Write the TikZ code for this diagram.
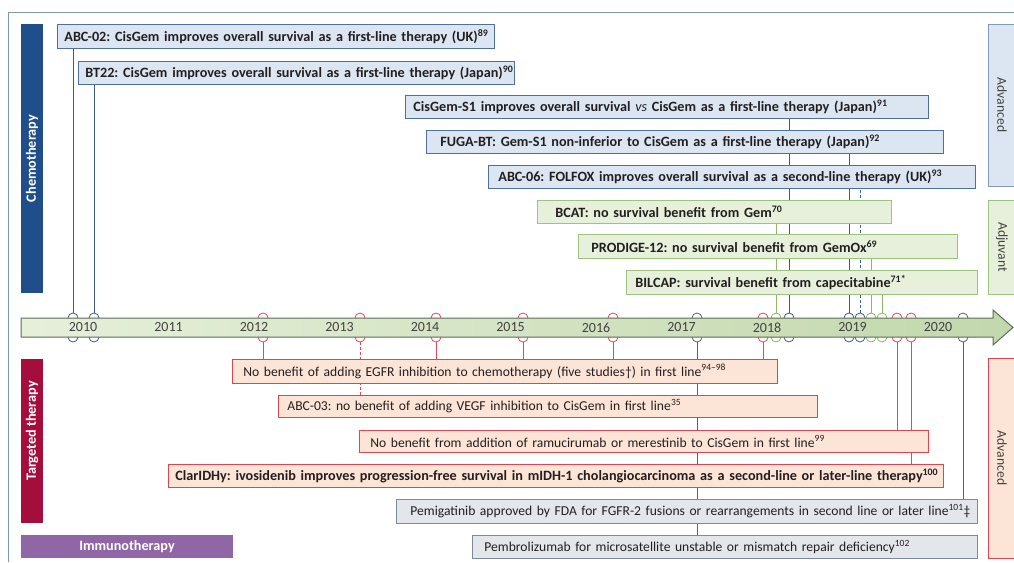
\documentclass[tikz,border=0pt]{standalone}
\usepackage{fontspec}
\setmainfont{Carlito}
\usetikzlibrary{backgrounds}
\frenchspacing
\definecolor{txt}{HTML}{231F20}
\definecolor{bfill}{HTML}{DCE6F2}
\definecolor{bdraw}{HTML}{4F6F9F}
\definecolor{bline}{HTML}{3E5C8A}
\definecolor{gfill}{HTML}{E6F0DA}
\definecolor{gdraw}{HTML}{9CC47E}
\definecolor{gline}{HTML}{8DB96D}
\definecolor{rfill}{HTML}{FCE4D6}
\definecolor{rdraw}{HTML}{E2434F}
\definecolor{rline}{HTML}{E04A55}
\definecolor{yfill}{HTML}{E3E7EB}
\definecolor{ydraw}{HTML}{7D8B97}
\definecolor{yline}{HTML}{56646F}
\definecolor{chemoc}{HTML}{1F4E8A}
\definecolor{targc}{HTML}{A50D3C}
\definecolor{immuc}{HTML}{9166A6}
\definecolor{framec}{HTML}{7F9C9C}
\definecolor{tlA}{HTML}{E6EFDA}
\definecolor{tlB}{HTML}{C2D8AC}
\definecolor{tldraw}{HTML}{5D6B58}
\definecolor{sbfill}{HTML}{DCE6F2}
\definecolor{sbdraw}{HTML}{7F98BD}
\newcommand\regf{\fontsize{13.6}{15}\selectfont}
\newcommand\boldf{\fontsize{14.2}{15}\selectfont\bfseries}
\tikzset{
  tbox/.style={anchor=north west, inner ysep=0pt, align=left, text=txt, line width=0.8pt, font=\regf},
  chemobox/.style={tbox, fill=bfill, draw=bdraw, font=\boldf},
  adjbox/.style={tbox, fill=gfill, draw=gdraw, font=\boldf},
  tgbox/.style={tbox, fill=rfill, draw=rdraw},
  tgboldbox/.style={tgbox, font=\boldf},
  imbox/.style={tbox, fill=yfill, draw=ydraw},
  mk/.style={circle, minimum size=10pt, inner sep=0pt, line width=0.8pt, fill=white},
  conn/.style={line width=0.9pt},
  dashedconn/.style={dash pattern=on 3pt off 2pt},
  catbar/.style={inner sep=0pt, text=white, font=\boldf},
  sidebar/.style={inner sep=0pt, line width=0.8pt, text=txt!85, font=\regf, minimum height=28pt, rotate=-90},
  yr/.style={text=txt!85, font=\fontsize{14}{15}\selectfont},
}
% name, x1, y1, x2, y2, style, text start x, text
\newcommand\bx[8]{\node[#6, inner xsep={(#7-#2)*1pt}, text width={(#4-#2-2*(#7-#2))*1pt}, minimum height={(#5-#3)*1pt}] (#1) at (#2,#3) {\mbox{#8}};}
\newcommand\evup[5]{%
  \node[mk, draw=#3] (#1t) at (#2,318) {};
  \node[mk, draw=#3] (#1b) at (#2,337) {};
  \draw[conn, #3, #5] (#1t.north) -- (#1t.north |- #4.south);}
\newcommand\evdn[5]{%
  \node[mk, draw=#3] (#1t) at (#2,318) {};
  \node[mk, draw=#3] (#1b) at (#2,337) {};
  \draw[conn, #3, #5] (#1b.south) -- (#1b.south |- #4.north);}
\begin{document}
\begin{tikzpicture}[x=1pt,y=-1pt]
\useasboundingbox (0,0) rectangle (1014,562);
\draw[framec, line width=0.8pt] (8,562) -- (8,12) -- (1014,12);
% category bars
\node[catbar, fill=chemoc, minimum width=269pt, minimum height=22pt, rotate=90] (chemo) at (32,158.5) {Chemotherapy};
\node[catbar, fill=targc, minimum width=164pt, minimum height=22pt, rotate=90] (targ) at (32,441) {\hspace{20pt}Targeted therapy};
\node[catbar, fill=immuc, minimum width=212pt, minimum height=23pt] (immu) at (127,546.5) {Immunotherapy};
\node[sidebar, fill=sbfill, draw=sbdraw, minimum width=162pt] (adv1) at (1002,105) {Advanced};
\node[sidebar, fill=gfill, draw=gdraw, minimum width=94pt] (adj) at (1002,247) {Adjuvant};
\node[sidebar, fill=rfill, draw=rdraw, minimum width=200pt] (adv2) at (1002,458) {Advanced};
% boxes
\bx{abc02}{57}{24}{494}{48}{chemobox}{64}{ABC-02: CisGem improves overall survival as a first-line therapy (UK)\textsuperscript{89}}
\bx{bt22}{78}{61}{514}{84}{chemobox}{85}{BT22: CisGem improves overall survival as a first-line therapy (Japan)\textsuperscript{90}}
\bx{cgs1}{405}{95}{928}{118}{chemobox}{413}{CisGem-S1 improves overall survival {\mdseries\itshape vs} CisGem as a first-line therapy (Japan)\textsuperscript{91}}
\bx{fuga}{426}{130}{943}{153}{chemobox}{440}{FUGA-BT: Gem-S1 non-inferior to CisGem as a first-line therapy (Japan)\textsuperscript{92}}
\bx{abc06}{488}{165}{975}{188}{chemobox}{498}{ABC-06: FOLFOX improves overall survival as a second-line therapy (UK)\textsuperscript{93}}
\bx{bcat}{537}{200}{891}{223}{adjbox}{555}{BCAT: no survival benefit from Gem\textsuperscript{70}}
\bx{prodige}{578}{234}{957}{258}{adjbox}{591}{PRODIGE-12: no survival benefit from GemOx\textsuperscript{69}}
\bx{bilcap}{626}{270}{977}{294}{adjbox}{635}{BILCAP: survival benefit from capecitabine\textsuperscript{71*}}
\bx{egfr}{232}{359}{777}{383}{tgbox}{243}{No benefit of adding EGFR inhibition to chemotherapy (five studies†) in first line\textsuperscript{94–98}}
\bx{abc03}{278}{395}{817}{417}{tgbox}{287}{ABC-03: no benefit of adding VEGF inhibition to CisGem in first line\textsuperscript{35}}
\bx{ramu}{359}{430}{928}{452}{tgbox}{370}{No benefit from addition of ramucirumab or merestinib to CisGem in first line\textsuperscript{99}}
\bx{clar}{168}{464}{943}{487}{tgboldbox}{175}{ClarIDHy: ivosidenib improves progression-free survival in mIDH-1 cholangiocarcinoma as a second-line or later-line therapy\textsuperscript{100}}
\bx{pemi}{396}{499}{977}{523}{imbox}{410}{Pemigatinib approved by FDA for FGFR-2 fusions or rearrangements in second line or later line\textsuperscript{101}‡}
\bx{pembro}{472}{535}{977}{558}{imbox}{484}{Pembrolizumab for microsatellite unstable or mismatch repair deficiency\textsuperscript{102}}
% events
\begin{scope}[on background layer]
\evup{e1}{73}{bline}{abc02}{}
\evup{e2}{94}{bline}{bt22}{}
\evup{e3}{789}{bline}{cgs1}{}
\evup{e4}{849}{bline}{fuga}{}
\evup{e5}{860}{bline}{abc06}{dashedconn}
\evup{e6}{776}{gline}{bcat}{}
\evup{e7}{871}{gline}{prodige}{}
\evup{e8}{882}{gline}{bilcap}{}
\evdn{f1}{263}{rline}{egfr}{}
\evdn{f2}{360}{rline}{abc03}{dashedconn}
\evdn{f3}{436}{rline}{egfr}{}
\evdn{f4}{523}{rline}{egfr}{}
\evdn{f5}{613}{rline}{egfr}{}
\evdn{f6}{763}{rline}{egfr}{}
\evdn{f7}{697}{yline}{pembro}{}
\evdn{f8}{897}{rline}{ramu}{}
\evdn{f9}{911}{rline}{clar}{}
\evdn{f10}{963}{yline}{pemi}{}
\end{scope}
% timeline
\path[draw=tldraw, line width=1pt, left color=tlA, right color=tlB] (21,318) -- (993,318) -- (993,310) -- (1013,327.5) -- (993,345) -- (993,337) -- (21,337) -- cycle;
\node[yr] (y2010) at (83,327.5) {2010};
\node[yr] (y2011) at (168.5,327.5) {2011};
\node[yr] (y2012) at (254,327.5) {2012};
\node[yr] (y2013) at (339.5,327.5) {2013};
\node[yr] (y2014) at (425,327.5) {2014};
\node[yr] (y2015) at (510.5,327.5) {2015};
\node[yr] (y2016) at (596,327.5) {2016};
\node[yr] (y2017) at (681.5,327.5) {2017};
\node[yr] (y2018) at (767,327.5) {2018};
\node[yr] (y2019) at (852.5,327.5) {2019};
\node[yr] (y2020) at (938,327.5) {2020};
\end{tikzpicture}
\end{document}
